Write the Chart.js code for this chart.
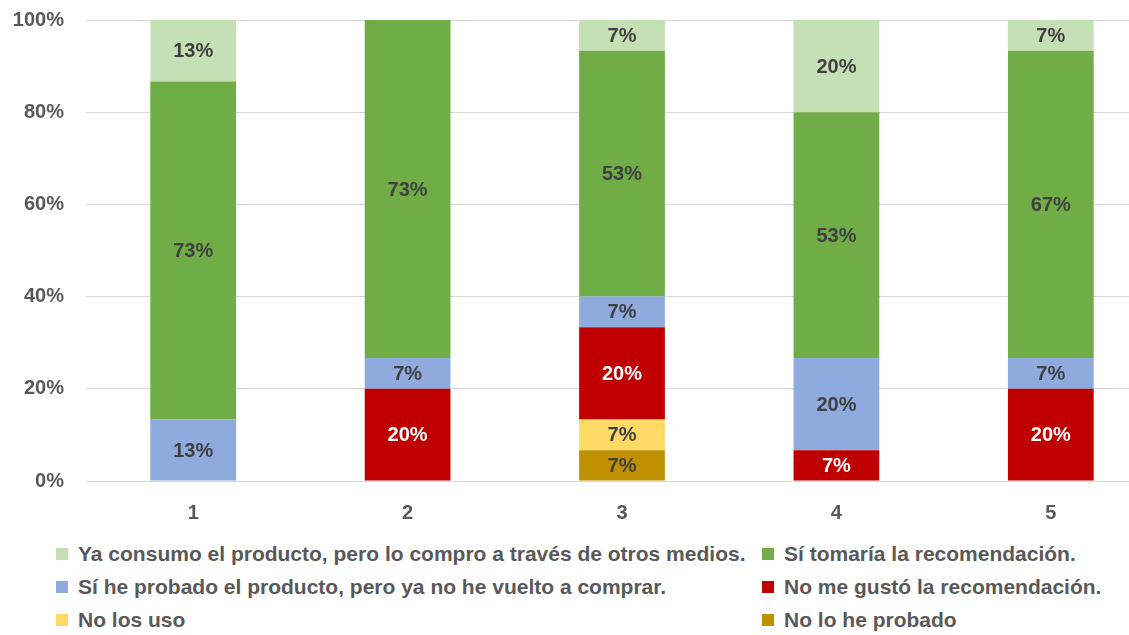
<!DOCTYPE html>
<html>
<head>
<meta charset="utf-8">
<script src="https://cdn.jsdelivr.net/npm/chart.js@4.4.1/dist/chart.umd.min.js"></script>
<style>
  html, body { margin: 0; padding: 0; background: #fff; overflow: hidden; }
  #wrap { position: relative; width: 1158px; height: 635px; }
  #chartBox { position: absolute; left: 0; top: -14px; width: 1158px; height: 544px; }
  #legend {
    position: absolute; left: 56px; top: 540px;
    display: grid; grid-template-columns: 706px auto; row-gap: 6px;
    font-family: "Liberation Sans", Arial, sans-serif; font-weight: bold;
    font-size: 21px; color: #595959;
  }
  #legend .item { display: flex; align-items: center; height: 27px; white-space: nowrap; }
  #legend .box { width: 12px; height: 12px; margin-right: 10px; flex: none; }
</style>
</head>
<body>
<div id="wrap">
  <div id="chartBox"><canvas id="myChart"></canvas></div>
  <div id="legend"></div>
</div>
<script>
// categories on the x axis
var categories = ['1', '2', '3', '4', '5'];

// percentage of answers per category, bottom of the stack first
var noLoHeProbado   = [0, 0, 6.67, 0, 0];
var noLosUso        = [0, 0, 6.67, 0, 0];
var noMeGusto       = [0, 20, 20, 6.67, 20];
var siHeProbado     = [13.33, 6.67, 6.67, 20, 6.67];
var siTomaria       = [73.33, 73.33, 53.33, 53.33, 66.67];
var yaConsumo       = [13.33, 0, 6.67, 20, 6.67];

var yTicks = [0, 20, 40, 60, 80, 100];

var series = [
	{ label: 'No lo he probado', data: noLoHeProbado, color: '#BF9000', text: '#404040' },
	{ label: 'No los uso', data: noLosUso, color: '#FFD966', text: '#404040' },
	{ label: 'No me gustó la recomendación.', data: noMeGusto, color: '#C00000', text: '#FFFFFF' },
	{ label: 'Sí he probado el producto, pero ya no he vuelto a comprar.', data: siHeProbado, color: '#8FAADC', text: '#404040' },
	{ label: 'Sí tomaría la recomendación.', data: siTomaria, color: '#70AD47', text: '#404040' },
	{ label: 'Ya consumo el producto, pero lo compro a través de otros medios.', data: yaConsumo, color: '#C5E0B4', text: '#404040' }
];

var FONT = '"Liberation Sans", Arial, sans-serif';

// writes the rounded percentage in the middle of each segment
var segmentLabels = {
	id: 'segmentLabels',
	afterDatasetsDraw: function(chart) {
		var ctx = chart.ctx;
		ctx.save();
		ctx.font = 'bold 20px ' + FONT;
		ctx.textAlign = 'center';
		ctx.textBaseline = 'middle';
		chart.data.datasets.forEach(function(ds, i) {
			var meta = chart.getDatasetMeta(i);
			meta.data.forEach(function(bar, j) {
				var v = ds.data[j];
				if (!v) return;
				var y = (bar.y + bar.base) / 2;
				ctx.fillStyle = series[i].text;
				ctx.fillText(Math.round(v) + '%', bar.x, y + 1);
			});
		});
		ctx.restore();
	}
};

var ctx = document.getElementById('myChart').getContext('2d');
var chart = new Chart(ctx, {
	type: 'bar',
	data: {
		labels: categories,
		datasets: series.map(function(s) {
			return {
				label: s.label,
				data: s.data,
				backgroundColor: s.color,
				borderWidth: 0,
				barPercentage: 0.8,
				categoryPercentage: 0.5
			};
		})
	},
	options: {
		responsive: true,
		maintainAspectRatio: false,
		animation: false,
		layout: { padding: { top: 5, right: 0, left: 0, bottom: 0 } },
		plugins: {
			legend: { display: false },
			tooltip: { enabled: false }
		},
		scales: {
			x: {
				stacked: true,
				grid: { display: false, drawTicks: false },
				border: { color: '#D9D9D9', width: 1 },
				ticks: { color: '#595959', padding: 20, font: { family: FONT, size: 20, weight: 'bold' } },
				afterFit: function(s) { s.height = 49; }
			},
			y: {
				stacked: true,
				min: 0,
				max: 100,
				afterBuildTicks: function(s) { s.ticks = yTicks.map(function(v) { return { value: v }; }); },
				grid: { color: '#D9D9D9', drawTicks: false },
				border: { display: false },
				ticks: {
					color: '#595959',
					padding: 22,
					font: { family: FONT, size: 20, weight: 'bold' },
					callback: function(v) { return v + '%'; }
				},
				afterFit: function(s) { s.width = 86; }
			}
		}
	},
	plugins: [segmentLabels]
});

// two-column legend, top of the stack first
var legendEl = document.getElementById('legend');
series.slice().reverse().forEach(function(s) {
	var item = document.createElement('div');
	item.className = 'item';
	item.innerHTML = '<span class="box" style="background:' + s.color + '"></span>' + s.label;
	legendEl.appendChild(item);
});
</script>
</body>
</html>
